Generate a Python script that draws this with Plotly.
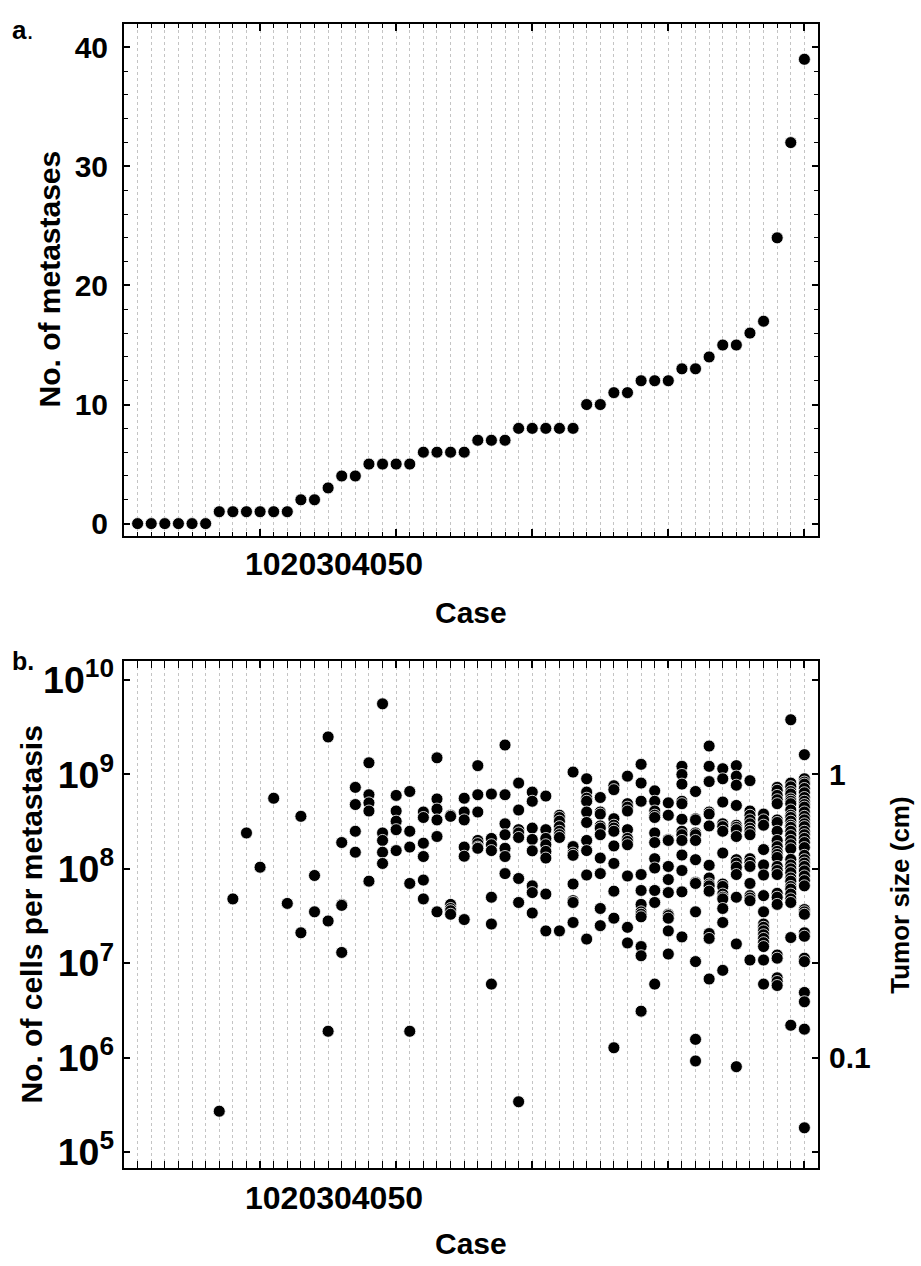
import plotly.graph_objects as go

# ---------------- data ----------------
cases = list(range(1, 51))
metastases = [0, 0, 0, 0, 0, 0, 1, 1, 1, 1, 1, 1, 2, 2, 3, 4, 4, 5, 5, 5,
              5, 6, 6, 6, 6, 7, 7, 7, 8, 8, 8, 8, 8, 10, 10, 11, 11, 12, 12, 12,
              13, 13, 14, 15, 15, 16, 17, 24, 32, 39]
x_tick_values = [10, 20, 30, 40, 50]

# cells per metastasis, one list per case (cases 1..50)
cells_per_metastasis = [
    [], [], [], [], [], [],
    [2.7e5],
    [4.8e7],
    [2.4e8],
    [1.04e8],
    [5.6e8],
    [4.3e7],
    [3.6e8, 2.1e7],
    [8.5e7, 3.5e7],
    [2.5e9, 2.8e7, 1.9e6],
    [1.9e8, 4.2e7, 4.1e7, 1.3e7],
    [7.3e8, 4.8e8, 2.5e8, 1.5e8],
    [1.33e9, 6.1e8, 5.0e8, 4.1e8, 7.4e7],
    [5.6e9, 2.4e8, 2.0e8, 1.5e8, 1.14e8],
    [6.0e8, 4.1e8, 3.2e8, 2.6e8, 1.56e8],
    [6.6e8, 2.5e8, 1.7e8, 7.0e7, 1.9e6],
    [4.0e8, 3.5e8, 1.87e8, 1.35e8, 7.6e7, 4.8e7],
    [1.5e9, 5.5e8, 4.3e8, 3.3e8, 2.2e8, 3.5e7],
    [3.7e8, 3.6e8, 4.2e7, 3.8e7, 3.6e7, 3.3e7],
    [5.6e8, 4.0e8, 3.3e8, 1.7e8, 1.36e8, 2.9e7],
    [1.24e9, 6.1e8, 4.0e8, 2.0e8, 1.85e8, 1.7e8, 1.65e8],
    [6.2e8, 2.1e8, 1.8e8, 1.56e8, 5.0e7, 2.6e7, 6.0e6],
    [2.05e9, 6.1e8, 3.0e8, 2.3e8, 1.65e8, 1.35e8, 8.9e7],
    [8.1e8, 4.2e8, 2.6e8, 2.4e8, 2.15e8, 7.9e7, 4.4e7, 3.4e5],
    [6.5e8, 5.2e8, 2.7e8, 2.05e8, 1.55e8, 6.6e7, 5.6e7, 3.4e7],
    [5.9e8, 2.6e8, 2.1e8, 1.8e8, 1.53e8, 1.3e8, 5.4e7, 2.2e7],
    [3.7e8, 3.5e8, 3.2e8, 2.8e8, 2.5e8, 2.3e8, 2.15e8, 2.2e7],
    [1.06e9, 1.72e8, 1.47e8, 1.39e8, 6.9e7, 4.6e7, 4.4e7, 2.7e7],
    [9.0e8, 6.5e8, 5.6e8, 5.2e8, 4.0e8, 3.1e8, 2.0e8, 1.56e8, 8.6e7, 1.8e7],
    [5.7e8, 4.0e8, 3.8e8, 2.85e8, 2.7e8, 2.3e8, 1.3e8, 8.9e7, 3.8e7, 2.5e7],
    [7.6e8, 6.9e8, 3.4e8, 2.9e8, 2.7e8, 2.5e8, 1.75e8, 1.14e8, 5.8e7, 3.0e7, 1.27e6],
    [9.6e8, 4.9e8, 4.5e8, 4.1e8, 2.6e8, 2.1e8, 1.95e8, 1.8e8, 8.4e7, 2.4e7, 1.64e7],
    [1.28e9, 8.1e8, 5.2e8, 8.7e7, 5.9e7, 4.2e7, 3.5e7, 3.3e7, 3.1e7, 1.5e7, 1.2e7, 3.1e6],
    [6.7e8, 5.2e8, 4.1e8, 3.7e8, 3.5e8, 2.4e8, 1.9e8, 1.28e8, 1.02e8, 5.9e7, 4.4e7, 6.0e6],
    [5.0e8, 3.7e8, 2.05e8, 2.0e8, 1.06e8, 7.7e7, 5.6e7, 3.3e7, 3.2e7, 3.0e7, 2.2e7, 1.25e7],
    [1.22e9, 1.0e9, 7.9e8, 5.2e8, 4.9e8, 3.35e8, 2.5e8, 2.3e8, 2.0e8, 1.4e8, 9.6e7, 5.7e7, 1.9e7],
    [6.6e8, 3.4e8, 3.3e8, 2.4e8, 2.3e8, 2.0e8, 1.25e8, 7.2e7, 7.0e7, 3.5e7, 1.04e7, 1.56e6, 9.2e5],
    [2.0e9, 1.22e9, 8.4e8, 4.0e8, 3.8e8, 2.85e8, 1.09e8, 8.0e7, 6.9e7, 6.6e7, 5.8e7, 2.06e7,
     1.83e7, 6.8e6],
    [1.15e9, 9.0e8, 5.1e8, 3.0e8, 2.8e8, 2.5e8, 1.47e8, 6.9e7, 6.5e7, 5.4e7, 5.0e7, 4.8e7,
     3.8e7, 2.7e7, 8.4e6],
    [1.24e9, 9.6e8, 7.7e8, 4.7e8, 2.9e8, 2.75e8, 2.6e8, 2.2e8, 1.25e8, 1.15e8, 1.04e8, 8.7e7,
     5.0e7, 1.6e7, 8.0e5],
    [8.6e8, 4.1e8, 3.7e8, 3.3e8, 3.0e8, 2.7e8, 2.5e8, 2.3e8, 1.28e8, 1.17e8, 1.06e8, 7.0e7,
     5.2e7, 4.9e7, 4.6e7, 1.08e7],
    [3.8e8, 3.3e8, 2.9e8, 1.6e8, 1.1e8, 8.6e7, 5.2e7, 3.5e7, 2.6e7, 2.4e7, 2.2e7, 2.0e7,
     1.83e7, 1.65e7, 1.5e7, 1.08e7, 6.0e6],
    [7.3e8, 6.8e8, 6.0e8, 5.4e8, 4.9e8, 3.3e8, 3.1e8, 2.5e8, 2.0e8, 1.72e8, 1.53e8, 1.42e8,
     1.32e8, 1.06e8, 9.6e7, 8.7e7, 5.5e7, 5.0e7, 4.2e7, 1.22e7, 1.13e7, 7.0e6, 6.4e6, 5.8e6],
    [3.8e9, 8.1e8, 7.4e8, 6.6e8, 6.2e8, 5.5e8, 5.2e8, 4.9e8, 4.2e8, 3.7e8, 3.5e8, 3.2e8,
     2.9e8, 2.75e8, 2.5e8, 2.25e8, 2.0e8, 1.8e8, 1.63e8, 1.26e8, 1.1e8, 1.0e8, 9.1e7, 8.0e7,
     7.4e7, 6.5e7, 6.1e7, 5.4e7, 4.8e7, 4.4e7, 1.87e7, 2.2e6],
    [1.62e9, 9.0e8, 8.3e8, 7.9e8, 7.1e8, 6.4e8, 5.7e8, 5.2e8, 4.8e8, 4.5e8, 4.0e8, 3.6e8,
     3.3e8, 3.0e8, 2.8e8, 2.5e8, 2.3e8, 2.1e8, 1.9e8, 1.68e8, 1.39e8, 1.25e8, 1.15e8, 1.06e8,
     9.5e7, 8.4e7, 7.5e7, 6.6e7, 3.7e7, 3.5e7, 3.3e7, 2.1e7, 1.93e7, 1.13e7, 1.04e7, 4.9e6,
     3.9e6, 2.0e6, 1.8e5],
]
tumor_size_ticks = [0.1, 1]

# ---------------- geometry (pixels) ----------------
W, H = 921, 1266
PX_L, PX_R = 124, 818
TOP_T, TOP_B = 15.7, 533
BOT_T, BOT_B = 660, 1172
LOG_TOP, LOG_BOT = 10.2, 4.83


def fx(p):
    return p / W


def fy(p):
    return 1 - p / H


FONT = "Liberation Sans, Arial, sans-serif"
GRID = "#c4c4c4"

bx, by = [], []
for c, vals in zip(cases, cells_per_metastasis):
    for v in vals:
        bx.append(c)
        by.append(v)

marker = dict(color="black", size=12, line=dict(color="white", width=0.8))

fig = go.Figure()
fig.add_trace(go.Scatter(x=cases, y=metastases, mode="markers", marker=marker,
                         xaxis="x", yaxis="y", showlegend=False))
fig.add_trace(go.Scatter(x=bx, y=by, mode="markers", marker=marker,
                         xaxis="x2", yaxis="y2", showlegend=False))
# invisible trace to attach the tumour-size axis
fig.add_trace(go.Scatter(x=bx, y=[(v / 1e9) ** (1 / 3) for v in by], mode="markers",
                         marker=dict(opacity=0), xaxis="x2", yaxis="y3",
                         showlegend=False, hoverinfo="skip"))


def xaxis_common(anchor):
    return dict(
        domain=[fx(PX_L), fx(PX_R)], anchor=anchor, range=[0, 51],
        tickmode="array", tickvals=x_tick_values, showticklabels=False,
        ticks="inside", ticklen=7, tickwidth=1.5, tickcolor="black",
        showline=True, linewidth=2, linecolor="black", mirror="allticks",
        showgrid=True, gridcolor=GRID, griddash="dot", gridwidth=1,
        zeroline=False,
        minor=dict(dtick=1, tick0=0, ticks="inside", ticklen=4, tickwidth=1,
                   tickcolor="black", showgrid=True, gridcolor=GRID,
                   griddash="dot", gridwidth=1),
    )


tickfont = dict(family=FONT, size=30, color="black", weight="bold")

fig.update_layout(
    width=W, height=H, margin=dict(l=0, r=0, t=0, b=0),
    paper_bgcolor="white", plot_bgcolor="white", showlegend=False,
    xaxis=xaxis_common("y"),
    yaxis=dict(domain=[fy(TOP_B), fy(TOP_T)], anchor="x", range=[-1, 42],
               tickmode="array", tickvals=[0, 10, 20, 30, 40],
               ticks="inside", ticklen=6, tickwidth=1.5, tickcolor="black",
               showline=True, linewidth=2, linecolor="black", mirror="allticks",
               showgrid=False, zeroline=False, tickfont=tickfont,
               ticklabelstandoff=8,
               minor=dict(dtick=2, tick0=0, ticks="inside", ticklen=4, tickwidth=1,
                          tickcolor="black", showgrid=False)),
    xaxis2=xaxis_common("y2"),
    yaxis2=dict(domain=[fy(BOT_B), fy(BOT_T)], anchor="x2", type="log",
                range=[LOG_BOT, LOG_TOP], dtick=1, exponentformat="power",
                showexponent="all",
                ticks="inside", ticklen=6, tickwidth=1.5, tickcolor="black",
                showline=True, linewidth=2, linecolor="black", mirror="allticks",
                showgrid=False, zeroline=False, tickfont=tickfont,
                ticklabelstandoff=2),
    yaxis3=dict(overlaying="y2", anchor="x2", side="right", type="log",
                range=[(LOG_BOT - 9) / 3, (LOG_TOP - 9) / 3],
                tickmode="array", tickvals=tumor_size_ticks,
                ticktext=[str(t) for t in tumor_size_ticks],
                ticks="", showline=False, showgrid=False, zeroline=False,
                tickfont=tickfont, ticklabelstandoff=10),
)

title_font = dict(family=FONT, size=30, color="black", weight="bold")
label_font = dict(family=FONT, size=32, color="black", weight="bold")
tick_string = "".join(str(v) for v in x_tick_values)

annotations = [
    dict(text="<b>a</b>.", x=fx(10), y=fy(22), xref="paper", yref="paper",
         xanchor="left", yanchor="middle", showarrow=False,
         font=dict(family=FONT, size=26, color="black")),
    dict(text="b.", x=fx(10), y=fy(660), xref="paper", yref="paper",
         xanchor="left", yanchor="middle", showarrow=False,
         font=dict(family=FONT, size=25, color="black", weight="bold")),
    dict(text="No. of metastases", x=fx(50), y=fy((TOP_T + TOP_B) / 2),
         xref="paper", yref="paper", textangle=-90, showarrow=False,
         xanchor="center", yanchor="middle", font=title_font),
    dict(text="Case", x=fx((PX_L + PX_R) / 2), y=fy(611), xref="paper", yref="paper",
         showarrow=False, xanchor="center", yanchor="middle", font=title_font),
    dict(text=tick_string, x=x_tick_values[0], xref="x", xshift=-17,
         y=fy(562), yref="paper", xanchor="left", yanchor="middle",
         showarrow=False, font=label_font),
    dict(text="No. of cells per metastasis", x=fx(32), y=fy((BOT_T + BOT_B) / 2),
         xref="paper", yref="paper", textangle=-90, showarrow=False,
         xanchor="center", yanchor="middle", font=title_font),
    dict(text="Tumor size (cm)", x=fx(900), y=fy(897), xref="paper", yref="paper",
         textangle=-90, showarrow=False, xanchor="center", yanchor="middle",
         font=dict(family=FONT, size=26, color="black", weight="bold")),
    dict(text=tick_string, x=x_tick_values[0], xref="x2", xshift=-17,
         y=fy(BOT_B + 30), yref="paper", xanchor="left", yanchor="middle",
         showarrow=False, font=label_font),
    dict(text="Case", x=fx((PX_L + PX_R) / 2), y=fy(BOT_B + 76), xref="paper",
         yref="paper", showarrow=False, xanchor="center", yanchor="middle",
         font=title_font),
]
fig.update_layout(annotations=annotations)

fig.write_html("out.html", config={"displayModeBar": False},
               post_script="document.body.style.margin='0px';")
